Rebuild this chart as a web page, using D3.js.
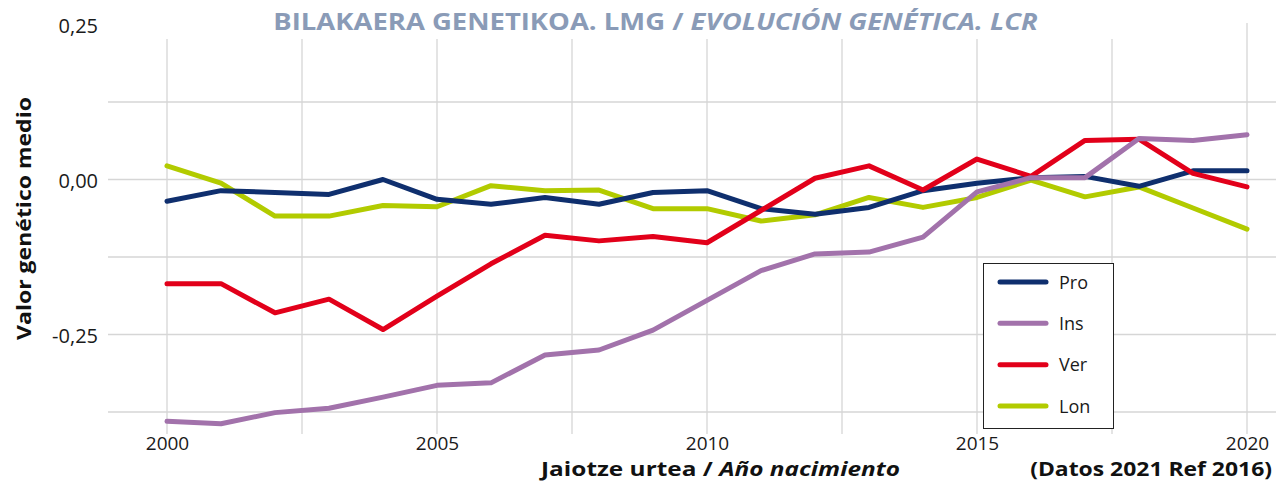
<!DOCTYPE html>
<html>
<head>
<meta charset="utf-8">
<script src="https://cdn.jsdelivr.net/npm/d3@7"></script>
<style>
  html, body { margin: 0; padding: 0; background: #fff; }
  svg { display: block; font-family: "Open Sans", "Noto Sans", sans-serif; }
</style>
</head>
<body>
<svg id="chart" width="1276" height="482"></svg>
<script>
const years = [2000,2001,2002,2003,2004,2005,2006,2007,2008,2009,2010,2011,2012,2013,2014,2015,2016,2017,2018,2019,2020];
const seriesNames = ["Pro", "Ins", "Ver", "Lon"];
const proValues = [-0.035,-0.018,-0.021,-0.024,0.000,-0.032,-0.040,-0.029,-0.040,-0.021,-0.018,-0.047,-0.056,-0.045,-0.018,-0.006,0.003,0.005,-0.011,0.014,0.014];
const insValues = [-0.390,-0.394,-0.376,-0.369,-0.351,-0.332,-0.328,-0.283,-0.275,-0.243,-0.195,-0.147,-0.120,-0.117,-0.093,-0.020,0.003,0.003,0.066,0.063,0.072];
const verValues = [-0.168,-0.168,-0.215,-0.193,-0.242,-0.188,-0.136,-0.090,-0.099,-0.092,-0.102,-0.050,0.002,0.022,-0.017,0.033,0.005,0.063,0.065,0.010,-0.012];
const lonValues = [0.022,-0.006,-0.059,-0.059,-0.042,-0.044,-0.010,-0.018,-0.017,-0.047,-0.047,-0.067,-0.057,-0.029,-0.045,-0.029,-0.001,-0.028,-0.012,-0.046,-0.080];
const xTickValues = [2000, 2005, 2010, 2015, 2020];
const xGridValues = [2000, 2002.5, 2005, 2007.5, 2010, 2012.5, 2015, 2017.5, 2020];
const yTickValues = [0.25, 0, -0.25];
const yGridValues = [0.125, 0, -0.125, -0.25, -0.375];
const titleBasque = "BILAKAERA GENETIKOA. LMG / ";
const titleSpanish = "EVOLUCIÓN GENÉTICA. LCR";
const yTitle = "Valor genético medio";
const xTitleBasque = "Jaiotze urtea / ";
const xTitleSpanish = "Año nacimiento";
const noteText = "(Datos 2021 Ref 2016)";

const colors = { Pro: "#0f2f6e", Ins: "#a272ab", Ver: "#e2001a", Lon: "#b2cb00" };
const valuesByName = { Pro: proValues, Ins: insValues, Ver: verValues, Lon: lonValues };
const drawOrder = ["Lon", "Pro", "Ver", "Ins"];

const svg = d3.select("#chart");
const x = d3.scaleLinear().domain([2000, 2020]).range([167, 1247]);
const y = d3.scaleLinear().domain([-0.375, 0.25]).range([412, 24.5]);

// helper: fit text to a target width by horizontal scaling
function fit(sel, cx, by, target, anchor) {
  const node = sel.node();
  const w = node.getComputedTextLength();
  const s = target / w;
  sel.attr("x", 0).attr("y", 0).attr("text-anchor", anchor)
     .attr("transform", `translate(${cx},${by}) scale(${s},1)`);
}

// gridlines
const grid = svg.append("g");
grid.selectAll("line.h").data(yGridValues).join("line")
  .attr("x1", 108).attr("x2", 1276)
  .attr("y1", d => y(d)).attr("y2", d => y(d))
  .attr("stroke", "#d6d6d6").attr("stroke-width", 1.3);
grid.selectAll("line.v").data(xGridValues).join("line")
  .attr("x1", d => x(d)).attr("x2", d => x(d))
  .attr("y1", d => d === 2020 ? 23 : 39).attr("y2", 434)
  .attr("stroke", "#d6d6d6").attr("stroke-width", 1.3);

// axes (labels only)
const fmt = d => d3.format(".2f")(d).replace(".", ",").replace("−", "-");
const yAxis = svg.append("g").attr("transform", "translate(98,0)")
  .call(d3.axisLeft(y).tickValues(yTickValues).tickSize(0).tickPadding(0).tickFormat(fmt));
yAxis.select(".domain").remove();
yAxis.selectAll("text").attr("font-size", 20).attr("font-family", "'Open Sans', sans-serif")
  .attr("fill", "#1a1a1a").attr("dy", null).attr("dominant-baseline", "auto")
  .attr("transform", "translate(0,8)");

const xAxis = svg.append("g").attr("transform", "translate(0,450)")
  .call(d3.axisBottom(x).tickValues(xTickValues).tickSize(0).tickPadding(0).tickFormat(d3.format("d")));
xAxis.select(".domain").remove();
xAxis.selectAll("text").attr("font-size", 19).attr("font-family", "'Open Sans', sans-serif")
  .attr("fill", "#1a1a1a").attr("dy", null).attr("y", 0);

// lines
const line = d3.line().x((d, i) => x(years[i])).y(d => y(d));
svg.append("g").selectAll("path").data(drawOrder).join("path")
  .attr("d", n => line(valuesByName[n]))
  .attr("fill", "none").attr("stroke", n => colors[n])
  .attr("stroke-width", 5).attr("stroke-linejoin", "round").attr("stroke-linecap", "round");

// legend
const lg = svg.append("g");
lg.append("rect").attr("x", 983.5).attr("y", 263.5).attr("width", 130).attr("height", 165)
  .attr("fill", "#fff").attr("stroke", "#222").attr("stroke-width", 1);
const legendY = d3.scalePoint().domain(seriesNames).range([282, 406]);
const li = lg.selectAll("g.item").data(seriesNames).join("g").attr("class", "item");
li.append("line").attr("x1", 1000).attr("x2", 1046)
  .attr("y1", d => legendY(d)).attr("y2", d => legendY(d))
  .attr("stroke", d => colors[d]).attr("stroke-width", 5).attr("stroke-linecap", "round");
li.append("text").attr("x", 1059).attr("y", d => legendY(d) + 6.5)
  .attr("font-size", 18).attr("fill", "#1a1a1a").text(d => d);

// title
const t = svg.append("text").attr("font-size", 24).attr("font-weight", 700).attr("fill", "#8a9bb7");
t.append("tspan").text(titleBasque);
t.append("tspan").attr("font-style", "italic").text(titleSpanish);
fit(t, 655.5, 29.5, 765, "middle");

// y title
const yt = svg.append("text").attr("font-size", 20).attr("font-weight", 700).attr("fill", "#111").text(yTitle);
{
  const w = yt.node().getComputedTextLength();
  yt.attr("text-anchor", "middle").attr("x", 0).attr("y", 0)
    .attr("transform", `translate(31,218.5) rotate(-90) scale(${243 / w},1)`);
}

// x title
const xt = svg.append("text").attr("font-size", 19).attr("font-weight", 700).attr("fill", "#111");
xt.append("tspan").text(xTitleBasque);
xt.append("tspan").attr("font-style", "italic").text(xTitleSpanish);
fit(xt, 720.5, 476, 359, "middle");

// note
const nt = svg.append("text").attr("font-size", 19).attr("font-weight", 700).attr("fill", "#111").text(noteText);
fit(nt, 1272, 476, 242, "end");
</script>
</body>
</html>
